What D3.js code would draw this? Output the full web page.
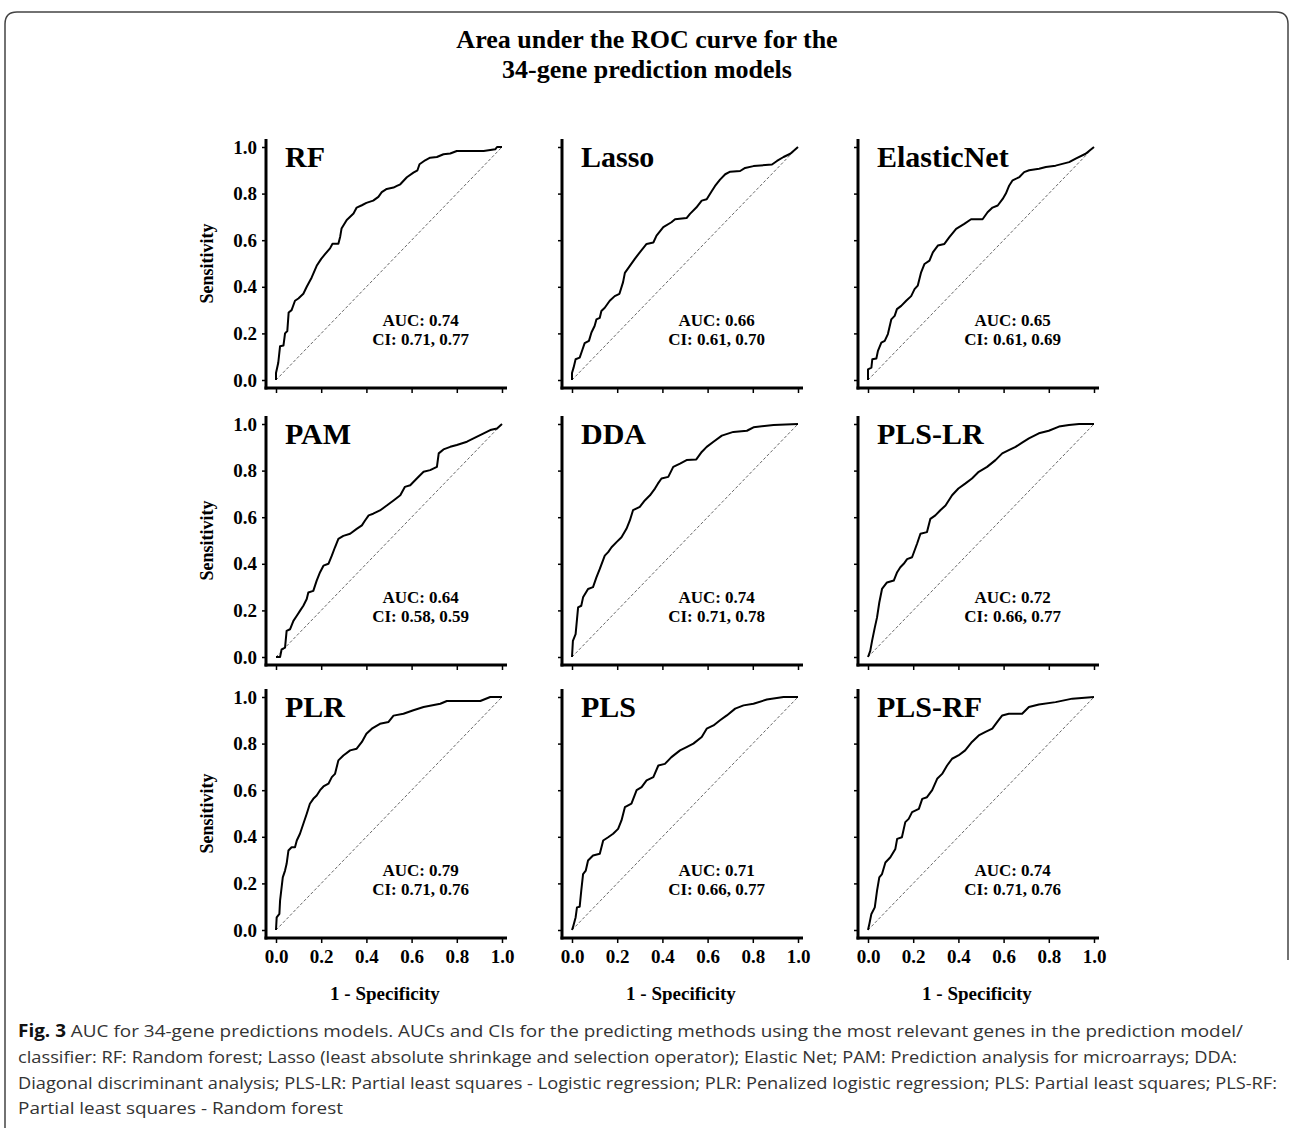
<!DOCTYPE html>
<html>
<head>
<meta charset="utf-8">
<script src="https://cdn.jsdelivr.net/npm/d3@7"></script>
<style>
  body { margin: 0; background: #fff; }
  svg { display: block; }
  .serif { font-family: "Liberation Serif", "Times New Roman", serif; font-weight: bold; }
</style>
</head>
<body>
<div id="chart"></div>
<script>
'use strict'
// model names and labels
const modelNames = ['RF', 'Lasso', 'ElasticNet', 'PAM', 'DDA', 'PLS-LR', 'PLR', 'PLS', 'PLS-RF'];
const aucLabels = ['0.74', '0.66', '0.65', '0.64', '0.74', '0.72', '0.79', '0.71', '0.74'];
const ciLabels = ['0.71, 0.77', '0.61, 0.70', '0.61, 0.69', '0.58, 0.59', '0.71, 0.78', '0.66, 0.77', '0.71, 0.76', '0.66, 0.77', '0.71, 0.76'];
const axisTicks = [0, 0.2, 0.4, 0.6, 0.8, 1.0];

// ROC points [1 - specificity, sensitivity]
const rfRoc = [[0,0],[0,0.03],[0.01,0.074],[0.018,0.145],[0.033,0.148],[0.04,0.2],[0.05,0.21],[0.056,0.29],[0.069,0.3],[0.084,0.34],[0.099,0.35],[0.121,0.37],[0.136,0.4],[0.158,0.44],[0.18,0.49],[0.2,0.52],[0.217,0.54],[0.239,0.565],[0.25,0.585],[0.276,0.585],[0.284,0.615],[0.29,0.65],[0.313,0.687],[0.343,0.715],[0.357,0.74],[0.38,0.75],[0.4,0.76],[0.43,0.77],[0.453,0.786],[0.468,0.806],[0.49,0.82],[0.52,0.826],[0.535,0.833],[0.55,0.84],[0.579,0.87],[0.608,0.89],[0.626,0.9],[0.635,0.926],[0.66,0.943],[0.682,0.954],[0.712,0.957],[0.741,0.969],[0.771,0.972],[0.8,0.983],[0.86,0.983],[0.919,0.983],[0.97,0.99],[0.978,1],[1,1]];
const lassoRoc = [[0,0],[0,0.03],[0.007,0.053],[0.016,0.089],[0.034,0.096],[0.046,0.13],[0.056,0.158],[0.075,0.168],[0.086,0.204],[0.1,0.232],[0.108,0.26],[0.123,0.267],[0.13,0.296],[0.145,0.31],[0.167,0.34],[0.189,0.36],[0.21,0.37],[0.226,0.42],[0.234,0.46],[0.256,0.49],[0.278,0.52],[0.3,0.548],[0.33,0.584],[0.36,0.59],[0.374,0.62],[0.404,0.656],[0.44,0.677],[0.456,0.69],[0.507,0.695],[0.522,0.713],[0.55,0.74],[0.574,0.77],[0.596,0.776],[0.618,0.81],[0.633,0.833],[0.655,0.86],[0.678,0.883],[0.7,0.894],[0.744,0.897],[0.766,0.91],[0.803,0.918],[0.885,0.925],[0.907,0.94],[0.936,0.957],[0.966,0.971],[1,1]];
const elasticRoc = [[0,0],[0,0.046],[0.015,0.053],[0.019,0.089],[0.037,0.092],[0.044,0.125],[0.059,0.16],[0.074,0.168],[0.088,0.197],[0.103,0.26],[0.118,0.275],[0.128,0.304],[0.147,0.318],[0.169,0.34],[0.191,0.36],[0.206,0.39],[0.22,0.405],[0.235,0.462],[0.25,0.498],[0.272,0.512],[0.287,0.548],[0.309,0.577],[0.338,0.584],[0.36,0.613],[0.39,0.649],[0.426,0.67],[0.456,0.69],[0.507,0.69],[0.529,0.72],[0.551,0.74],[0.574,0.749],[0.596,0.777],[0.61,0.8],[0.625,0.835],[0.64,0.857],[0.67,0.871],[0.691,0.892],[0.713,0.9],[0.757,0.907],[0.787,0.914],[0.83,0.92],[0.89,0.935],[0.919,0.95],[0.963,0.971],[1,1]];
const pamRoc = [[0,0],[0.018,0],[0.025,0.033],[0.04,0.04],[0.047,0.112],[0.062,0.119],[0.077,0.155],[0.092,0.177],[0.106,0.198],[0.121,0.22],[0.136,0.249],[0.143,0.277],[0.165,0.284],[0.18,0.328],[0.195,0.364],[0.21,0.392],[0.232,0.4],[0.247,0.435],[0.261,0.471],[0.276,0.507],[0.298,0.52],[0.328,0.529],[0.357,0.55],[0.38,0.565],[0.394,0.586],[0.41,0.608],[0.43,0.615],[0.46,0.629],[0.49,0.65],[0.52,0.672],[0.55,0.694],[0.57,0.73],[0.594,0.737],[0.623,0.766],[0.653,0.795],[0.682,0.802],[0.712,0.816],[0.72,0.874],[0.741,0.891],[0.771,0.902],[0.8,0.91],[0.845,0.924],[0.874,0.938],[0.919,0.96],[0.948,0.974],[0.978,0.981],[1,1]];
const ddaRoc = [[0,0],[0.004,0.069],[0.016,0.098],[0.027,0.213],[0.041,0.22],[0.049,0.256],[0.071,0.292],[0.093,0.3],[0.108,0.342],[0.123,0.378],[0.145,0.435],[0.16,0.45],[0.175,0.471],[0.197,0.493],[0.219,0.514],[0.241,0.55],[0.256,0.586],[0.27,0.63],[0.3,0.644],[0.322,0.672],[0.345,0.694],[0.367,0.723],[0.38,0.744],[0.396,0.766],[0.426,0.773],[0.448,0.816],[0.478,0.83],[0.507,0.845],[0.55,0.848],[0.574,0.88],[0.596,0.902],[0.626,0.924],[0.663,0.95],[0.714,0.966],[0.774,0.971],[0.803,0.986],[0.892,0.996],[1,1]];
const plsLrRoc = [[0,0],[0.01,0.026],[0.018,0.069],[0.03,0.126],[0.04,0.17],[0.05,0.234],[0.062,0.292],[0.084,0.32],[0.114,0.328],[0.129,0.364],[0.143,0.385],[0.158,0.4],[0.173,0.42],[0.195,0.428],[0.217,0.486],[0.232,0.529],[0.261,0.536],[0.276,0.593],[0.298,0.608],[0.32,0.63],[0.343,0.65],[0.372,0.694],[0.4,0.723],[0.43,0.744],[0.46,0.766],[0.49,0.795],[0.527,0.816],[0.564,0.845],[0.594,0.874],[0.623,0.888],[0.653,0.902],[0.682,0.92],[0.712,0.938],[0.756,0.96],[0.8,0.971],[0.845,0.989],[0.889,0.996],[0.934,1],[1,1]];
const plrRoc = [[0,0],[0.003,0.054],[0.015,0.069],[0.018,0.126],[0.03,0.226],[0.04,0.255],[0.047,0.284],[0.055,0.341],[0.069,0.355],[0.084,0.355],[0.092,0.384],[0.106,0.413],[0.121,0.456],[0.136,0.499],[0.15,0.542],[0.165,0.563],[0.18,0.577],[0.195,0.6],[0.21,0.616],[0.232,0.628],[0.247,0.656],[0.261,0.67],[0.276,0.728],[0.298,0.749],[0.328,0.771],[0.357,0.778],[0.38,0.807],[0.4,0.842],[0.424,0.864],[0.46,0.885],[0.498,0.893],[0.52,0.92],[0.564,0.928],[0.608,0.943],[0.653,0.957],[0.727,0.971],[0.756,0.983],[0.904,0.983],[0.948,1],[1,1]];
const plsRoc = [[0,0],[0.004,0.011],[0.016,0.054],[0.022,0.097],[0.034,0.1],[0.041,0.169],[0.049,0.24],[0.061,0.255],[0.071,0.298],[0.093,0.32],[0.123,0.327],[0.138,0.384],[0.16,0.398],[0.182,0.413],[0.204,0.434],[0.219,0.47],[0.234,0.527],[0.263,0.542],[0.286,0.6],[0.308,0.613],[0.33,0.642],[0.36,0.656],[0.382,0.706],[0.411,0.713],[0.44,0.742],[0.478,0.771],[0.507,0.785],[0.537,0.8],[0.574,0.828],[0.596,0.864],[0.626,0.878],[0.655,0.9],[0.685,0.921],[0.722,0.95],[0.759,0.964],[0.803,0.971],[0.862,0.989],[0.936,1],[1,1]];
const plsRfRoc = [[0,0],[0.006,0.026],[0.015,0.069],[0.03,0.097],[0.04,0.169],[0.05,0.226],[0.062,0.24],[0.077,0.29],[0.099,0.312],[0.121,0.348],[0.129,0.391],[0.15,0.398],[0.165,0.463],[0.18,0.477],[0.195,0.506],[0.225,0.52],[0.24,0.563],[0.261,0.57],[0.284,0.6],[0.306,0.649],[0.328,0.67],[0.35,0.706],[0.372,0.735],[0.4,0.749],[0.43,0.771],[0.46,0.807],[0.49,0.835],[0.52,0.85],[0.55,0.864],[0.572,0.893],[0.594,0.921],[0.623,0.928],[0.682,0.928],[0.712,0.957],[0.756,0.968],[0.83,0.978],[0.904,0.993],[1,1]];
const rocCurves = [rfRoc, lassoRoc, elasticRoc, pamRoc, ddaRoc, plsLrRoc, plrRoc, plsRoc, plsRfRoc];

const captionLines = [
  'AUC for 34-gene predictions models. AUCs and CIs for the predicting methods using the most relevant genes in the prediction model/',
  'classifier: RF: Random forest; Lasso (least absolute shrinkage and selection operator); Elastic Net; PAM: Prediction analysis for microarrays; DDA:',
  'Diagonal discriminant analysis; PLS-LR: Partial least squares - Logistic regression; PLR: Penalized logistic regression; PLS: Partial least squares; PLS-RF:',
  'Partial least squares - Random forest'
];

let W = 1293, H = 1128;
let colX = [276, 572, 868];
let rowY = [147, 424, 697];
let pw = 226, ph = 233;

let svg = d3.select('#chart').append('svg')
  .attr('width', W).attr('height', H);

// frame
svg.append('path')
  .attr('d', 'M5,1128 L5,24 Q5,12 17,12 L1276,12 Q1288,12 1288,24 L1288,960')
  .attr('fill', 'none')
  .attr('stroke', '#444')
  .attr('stroke-width', 1.5);

// title
svg.append('text').attr('class', 'serif')
  .attr('x', 647).attr('y', 48).attr('text-anchor', 'middle')
  .attr('font-size', '26px').attr('fill', '#000')
  .text('Area under the ROC curve for the');
svg.append('text').attr('class', 'serif')
  .attr('x', 647).attr('y', 78).attr('text-anchor', 'middle')
  .attr('font-size', '26px').attr('fill', '#000')
  .text('34-gene prediction models');

modelNames.forEach(function(name, i) {
  let col = i % 3, row = Math.floor(i / 3);
  let x = d3.scaleLinear().domain([0, 1]).range([colX[col], colX[col] + pw]);
  let y = d3.scaleLinear().domain([0, 1]).range([rowY[row] + ph, rowY[row]]);
  let g = svg.append('g');
  let axLeft = x(0) - 10, axBottom = y(0) + 8;

  // y axis
  let yAxis = d3.axisLeft(y).tickValues(axisTicks).tickSize(4).tickPadding(5)
    .tickFormat(col === 0 ? d3.format('.1f') : function() { return ''; });
  let yg = g.append('g').attr('transform', 'translate(' + axLeft + ',0)').call(yAxis);
  // x axis
  let xAxis = d3.axisBottom(x).tickValues(axisTicks).tickSize(5).tickPadding(6.5)
    .tickFormat(row === 2 ? d3.format('.1f') : function() { return ''; });
  let xg = g.append('g').attr('transform', 'translate(0,' + axBottom + ')').call(xAxis);

  [yg, xg].forEach(function(a) {
    a.select('.domain').remove();
    a.selectAll('line').attr('stroke', '#000').attr('stroke-width', 1.5);
    a.selectAll('text').attr('class', 'serif').attr('font-size', '19px').attr('fill', '#000');
  });

  // thick axis lines
  g.append('line')
    .attr('x1', axLeft).attr('x2', axLeft)
    .attr('y1', y(1) - 8).attr('y2', axBottom + 1.5)
    .attr('stroke', '#000').attr('stroke-width', 3);
  g.append('line')
    .attr('x1', axLeft - 1.5).attr('x2', x(1) + 5)
    .attr('y1', axBottom).attr('y2', axBottom)
    .attr('stroke', '#000').attr('stroke-width', 3);

  // chance diagonal
  let line = d3.line().x(function(d) { return x(d[0]); }).y(function(d) { return y(d[1]); });
  g.append('path')
    .datum([[0, 0], [1, 1]])
    .attr('d', line)
    .attr('fill', 'none')
    .attr('stroke', '#555')
    .attr('stroke-width', 0.9)
    .attr('stroke-dasharray', '3,2');

  // ROC curve
  g.append('path')
    .datum(rocCurves[i])
    .attr('d', line)
    .attr('fill', 'none')
    .attr('stroke', '#000')
    .attr('stroke-width', 2)
    .attr('stroke-linejoin', 'round');

  // panel name
  g.append('text').attr('class', 'serif')
    .attr('x', x(0) + 9).attr('y', y(1) + 20)
    .attr('font-size', '30px').attr('fill', '#000')
    .text(name);

  // AUC and CI
  g.append('text').attr('class', 'serif')
    .attr('x', x(0.64)).attr('y', y(0) - 54).attr('text-anchor', 'middle')
    .attr('font-size', '17px').attr('fill', '#000')
    .text('AUC: ' + aucLabels[i]);
  g.append('text').attr('class', 'serif')
    .attr('x', x(0.64)).attr('y', y(0) - 35).attr('text-anchor', 'middle')
    .attr('font-size', '17px').attr('fill', '#000')
    .text('CI: ' + ciLabels[i]);

  if (col === 0) {
    g.append('text').attr('class', 'serif')
      .attr('transform', 'translate(' + (x(0) - 63) + ',' + ((y(0) + y(1)) / 2) + ') rotate(-90)')
      .attr('text-anchor', 'middle')
      .attr('font-size', '18px').attr('fill', '#000')
      .text('Sensitivity');
  }
  if (row === 2) {
    g.append('text').attr('class', 'serif')
      .attr('x', x(0.5) - 4).attr('y', y(0) + 70).attr('text-anchor', 'middle')
      .attr('font-size', '19px').attr('fill', '#000')
      .text('1 - Specificity');
  }
});

// caption
let capWidths = [1225, 1219, 1259];
let capG = svg.append('g')
  .style('font-family', '"Open Sans", "Noto Sans", sans-serif')
  .attr('font-size', '17px')
  .attr('fill', '#333');
let firstLine = capG.append('text').attr('x', 18).attr('y', 1037);
firstLine.append('tspan').attr('font-weight', 'bold').attr('fill', '#111').text('Fig. 3');
firstLine.append('tspan').text(' ' + captionLines[0]);
let natural = firstLine.node().getComputedTextLength();
let stretch = capWidths[0] / natural;
firstLine.attr('textLength', capWidths[0]).attr('lengthAdjust', 'spacingAndGlyphs');

captionLines.slice(1).forEach(function(txt, k) {
  let t = capG.append('text')
    .attr('x', 18).attr('y', 1037 + (k + 1) * 25.8)
    .text(txt);
  let w = k < 2 ? capWidths[k + 1] : t.node().getComputedTextLength() * stretch;
  t.attr('textLength', w).attr('lengthAdjust', 'spacingAndGlyphs');
});
</script>
</body>
</html>
